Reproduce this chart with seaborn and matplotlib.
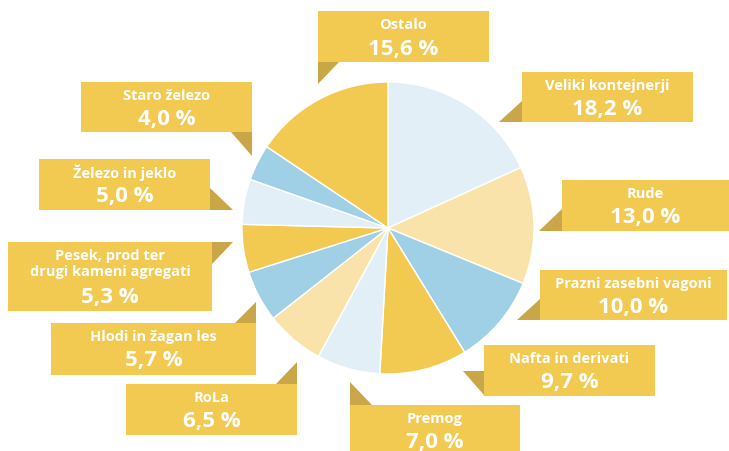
import matplotlib
matplotlib.use("Agg")
import matplotlib.pyplot as plt
from matplotlib.patches import Rectangle, Polygon
import seaborn as sns

sns.set_theme(style="white")
plt.rcParams['font.family'] = ['Open Sans', 'DejaVu Sans']

categories = ["Veliki kontejnerji", "Rude", "Prazni zasebni vagoni", "Nafta in derivati",
              "Premog", "RoLa", "Hlodi in žagan les",
              "Pesek, prod ter\ndrugi kameni agregati", "Železo in jeklo",
              "Staro železo", "Ostalo"]
values = [18.2, 13.0, 10.0, 9.7, 7.0, 6.5, 5.7, 5.3, 5.0, 4.0, 15.6]

LB = "#e2eff7"
LY = "#f9e3aa"
BL = "#a0d0e6"
YE = "#f2ca52"
slice_colors = [LB, LY, BL, YE, LB, LY, BL, YE, LB, BL, YE]

BOX = "#f2ca52"
TRI = "#c9a647"

W, H = 729, 452
fig = plt.figure(figsize=(W / 100, H / 100), dpi=100)
ax = fig.add_axes([0, 0, 1, 1])
ax.set_xlim(0, W)
ax.set_ylim(0, H)
ax.set_aspect("equal")
ax.axis("off")

cx, cy, r = 388, 229, 146
ax.pie(values, colors=slice_colors, startangle=90, counterclock=False,
       center=(cx, H - cy), radius=r,
       wedgeprops=dict(edgecolor="white", linewidth=1.0))
ax.set_xlim(0, W)
ax.set_ylim(0, H)

# box layout (x0, y0, x1, y1) in pixel coordinates (top-left origin), triangle points
boxes = {
    "Veliki kontejnerji": ((522, 73, 693, 123), [(522, 102), (522, 123), (499, 123)]),
    "Rude": ((562, 181, 729, 232), [(562, 210), (562, 232), (539, 232)]),
    "Prazni zasebni vagoni": ((540, 271, 727, 321), [(540, 300), (540, 321), (517, 321)]),
    "Nafta in derivati": ((484, 346, 655, 397), [(463, 372), (484, 372), (484, 396)]),
    "Premog": ((350, 406, 520, 455), [(350, 383), (350, 406), (372, 406)]),
    "RoLa": ((126, 385, 297, 436), [(297, 363), (297, 385), (276, 385)]),
    "Hlodi in žagan les": ((51, 324, 256, 376), [(256, 324), (235, 324), (256, 303)]),
    "Pesek, prod ter\ndrugi kameni agregati": ((8, 243, 212, 312), [(212, 243), (233, 243), (212, 265)]),
    "Železo in jeklo": ((39, 160, 210, 211), [(210, 189), (210, 211), (233, 211)]),
    "Staro železo": ((81, 83, 252, 133), [(252, 133), (231, 133), (252, 157)]),
    "Ostalo": ((318, 12, 489, 63), [(318, 63), (339, 63), (318, 85)]),
}

for cat, val in zip(categories, values):
    (x0, y0, x1, y1), tri = boxes[cat]
    ax.add_patch(Rectangle((x0, H - y1), x1 - x0, y1 - y0, facecolor=BOX,
                           edgecolor="none", zorder=3))
    ax.add_patch(Polygon([(px, H - py) for px, py in tri], closed=True,
                         facecolor=TRI, edgecolor="none", zorder=3))
    xc = (x0 + x1) / 2
    pct = f"{val:.1f}".replace(".", ",") + " %"
    nlines = cat.count("\n") + 1
    if nlines == 1:
        ly = y0 + 13
        py = y0 + 37
    else:
        ly = y0 + 21
        py = y0 + 55
    ax.text(xc, H - ly, cat, ha="center", va="center", color="white",
            fontsize=10.5, fontweight="bold", linespacing=1.1, zorder=4)
    ax.text(xc, H - py, pct, ha="center", va="center", color="white",
            fontsize=16, fontweight="bold", zorder=4)

fig.savefig("out.png", dpi=100, facecolor="white")
